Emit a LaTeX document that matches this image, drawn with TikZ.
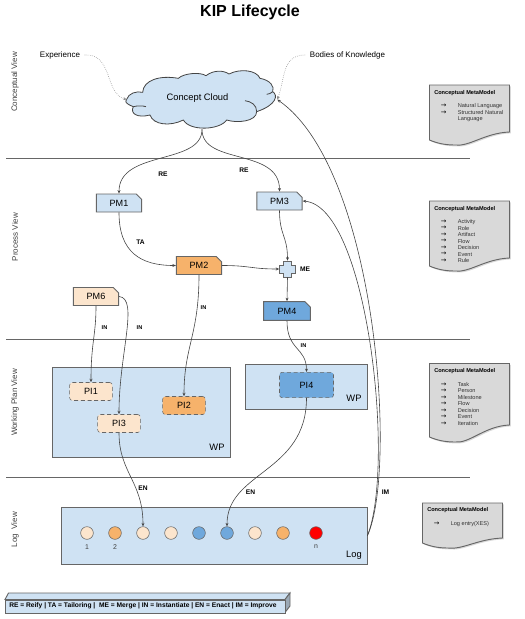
\documentclass[tikz,border=0pt]{standalone}
\usepackage{fontspec}
\setmainfont{Liberation Sans}
\newfontfamily\tipfont{DejaVu Sans}
\usetikzlibrary{arrows.meta, positioning, shapes.misc, shadows}
\definecolor{paleblue}{HTML}{CFE2F3}
\definecolor{midblue}{HTML}{6FA8DC}
\definecolor{peach}{HTML}{FCE5CD}
\definecolor{amber}{HTML}{F6B26B}
\definecolor{pagegray}{HTML}{D9D9D9}
\definecolor{edge}{HTML}{666666}
\definecolor{wire}{HTML}{444444}
\tikzset{
  pmbox/.style={shape=chamfered rectangle, chamfered rectangle corners=north east,
    chamfered rectangle sep=2pt, draw=edge, line width=0.7pt, inner sep=0pt,
    minimum width=34pt, minimum height=13.5pt, font=\fontsize{6.8}{8}\selectfont},
  pibox/.style={draw=edge, densely dashed, rounded corners=2pt, inner sep=0pt,
    minimum width=32pt, minimum height=13.5pt, font=\fontsize{6.8}{8}\selectfont},
  area/.style={draw=edge, line width=0.7pt, fill=paleblue, inner sep=0pt},
  evt/.style={circle, draw=edge, inner sep=0pt, minimum size=9.5pt},
  evtnum/.style={below=3.5pt, inner sep=0pt, text=black!75, font=\fontsize{5.2}{6}\selectfont},
  viewlabel/.style={rotate=90, text=black!75, font=\fontsize{6}{7}\selectfont},
  flowlabel/.style={font=\fontsize{5}{6}\selectfont\bfseries},
  inlabel/.style={font=\fontsize{4.2}{5}\selectfont\bfseries},
  plainlabel/.style={font=\fontsize{6}{7}\selectfont},
  wirearrow/.style={->, wire, line width=0.45pt},
  hintarrow/.style={->, black!45, densely dotted, line width=0.45pt},
  rowline/.style={edge, line width=0.6pt},
  pagetext/.style={anchor=west, inner sep=0pt, text=black!80, font=\fontsize{4.2}{5}\selectfont},
  pagetip/.style={anchor=west, inner sep=0pt, font=\fontsize{5}{5}\selectfont\tipfont},
  pagetitle/.style={anchor=west, inner sep=0pt, font=\fontsize{4.2}{5}\selectfont\bfseries},
}
\begin{document}
\begin{tikzpicture}[x=0.75pt, y=-0.75pt,
    >={Stealth[length=2.6pt, width=2.2pt]}]
  \useasboundingbox (0,0) rectangle (525,619);
  \node[font=\fontsize{12}{14}\selectfont\bfseries] (title) at (250,12) {KIP Lifecycle};

  % rows
  \foreach \y in {158.5, 339.5, 477.5} {
    \draw[rowline] (6,\y) -- (470,\y);
  }
  \node[viewlabel] (vconcept) at (15,82) {Conceptual View};
  \node[viewlabel] (vprocess) at (15,237) {Process View};
  \node[viewlabel] (vplan) at (15,402.5) {Working Plan View};
  \node[viewlabel] (vlog) at (15,529.5) {Log\ \ View};

  % conceptual row
  \node[plainlabel] (exper) at (60,55) {Experience};
  \node[plainlabel] (bodies) at (347.5,55) {Bodies of Knowledge};
  \begin{scope}[shift={(120,60)}, x=0.25pt, y=-0.25pt]
    \draw[draw=wire, line width=0.6pt, fill=paleblue]
      (20,118) .. controls (25,100) and (50,92) .. (68,97)
      .. controls (70,60) and (120,45) .. (175,55)
      .. controls (190,40) and (240,35) .. (258,47)
      .. controls (280,30) and (310,30) .. (327,42)
      .. controls (360,25) and (410,30) .. (420,55)
      .. controls (450,60) and (465,80) .. (458,95)
      .. controls (475,105) and (470,135) .. (410,155)
      .. controls (410,185) and (350,190) .. (320,180)
      .. controls (300,210) and (210,215) .. (190,180)
      .. controls (150,200) and (100,195) .. (90,165)
      .. controls (50,175) and (30,160) .. (40,140)
      .. controls (15,130) and (15,125) .. (20,118) -- cycle;
    \draw[draw=wire, line width=0.6pt] (40,140) .. controls (50,137) and (70,137) .. (78,140);
    \draw[draw=wire, line width=0.6pt] (410,155) .. controls (410,135) and (395,125) .. (375,122);
    \draw[draw=wire, line width=0.6pt] (458,95) .. controls (455,100) and (445,102) .. (440,103);
  \end{scope}
  \node[minimum width=112.5pt, minimum height=44.5pt, inner sep=0pt] (cloud) at (202,99.5) {};
  \node[font=\fontsize{7}{8}\selectfont] (cloudtext) at (197.5,98.5) {Concept Cloud};

  % process models
  \node[pmbox, fill=paleblue] (PM1) at (119,203) {PM1};
  \node[pmbox, fill=paleblue] (PM3) at (279.5,201) {PM3};
  \node[pmbox, fill=amber] (PM2) at (199,265.5) {PM2};
  \node[pmbox, fill=peach] (PM6) at (96,296.5) {PM6};
  \node[pmbox, fill=midblue, minimum width=35pt, minimum height=14pt] (PM4) at (287,311) {PM4};
  \node[minimum size=12pt, inner sep=0pt] (merge) at (287.5,269) {};
  \draw[draw=edge, line width=0.7pt, fill=paleblue]
    (279.5,265) -- (283.5,265) -- (283.5,261) -- (291.5,261) -- (291.5,265) -- (295.5,265)
    -- (295.5,273) -- (291.5,273) -- (291.5,277) -- (283.5,277) -- (283.5,273)
    -- (279.5,273) -- cycle;

  % work plans
  \node[area, anchor=north west, minimum width=133.5pt, minimum height=67.5pt] (WP1) at (51.5,366.5) {};
  \node[area, anchor=north west, minimum width=91.5pt, minimum height=33.75pt] (WP2) at (244.5,363.5) {};
  \node[font=\fontsize{7}{8}\selectfont] (wpa) at (217,447) {WP};
  \node[font=\fontsize{7}{8}\selectfont] (wpb) at (354,398.5) {WP};
  \node[pibox, fill=peach] (PI1) at (91,391.5) {PI1};
  \node[pibox, fill=peach] (PI3) at (119,423.5) {PI3};
  \node[pibox, fill=amber] (PI2) at (184,405.5) {PI2};
  \node[pibox, fill=midblue, minimum width=40.5pt, minimum height=19pt] (PI4) at (306.5,385) {PI4};

  % log
  \node[area, anchor=north west, minimum width=229.5pt, minimum height=43pt] (log) at (60.5,506.5) {};
  \node[font=\fontsize{7}{8}\selectfont] (logname) at (354,555.5) {Log};
  \foreach \n/\x/\c in {1/87/peach, 2/115/amber, 3/143/peach, 4/171/peach, 5/199/midblue,
                        6/227/midblue, 7/255/peach, 8/283/amber, 9/316/red} {
    \node[evt, fill=\c] (E\n) at (\x,533) {};
  }
  \node[evtnum] (n1) at (E1.south) {1};
  \node[evtnum] (n2) at (E2.south) {2};
  \node[evtnum] (n9) at (E9.south) {n};

  % connectors
  \draw[hintarrow] (exper.east) .. controls +(28,-2) and +(-22,-6) .. (cloud.west);
  \draw[hintarrow] (bodies.west) .. controls +(-24,0) and +(8,-20) .. (cloud.east);
  \draw[wirearrow] (cloud.south) .. controls +(0,36) and +(0,-44) .. (PM1.north);
  \draw[wirearrow] (cloud.south) .. controls +(0,36) and +(0,-44) .. (PM3.north);
  \draw[wirearrow] (PM1.south) .. controls +(0,40) and +(-35,0) .. (PM2.west);
  \draw[wirearrow] (PM2.east) .. controls +(28,0) and +(-28,0) .. (merge.west);
  \draw[wirearrow] (PM3.south) .. controls +(0,25) and +(0,-25) .. (merge.north);
  \draw[wirearrow] (merge.south) -- (PM4.north);
  \draw[wirearrow] (PM6.south) .. controls +(0,30) and +(0,-40) .. (PI1.north);
  \draw[wirearrow] (PM6.east) .. controls +(20,2) and +(0,-60) .. (PI3.north);
  \draw[wirearrow] (PM2.south) .. controls +(0,60) and +(0,-50) .. (PI2.north);
  \draw[wirearrow] (PM4.south) .. controls +(0,30) and +(0,-25) .. (PI4.north);
  \draw[wirearrow] (PI3.south) .. controls +(0,40) and +(0,-45) .. (E3.north);
  \draw[wirearrow] (PI4.south) .. controls +(0,75) and +(0,-55) .. (E6.north);
  \draw[wirearrow] (log.east) .. controls +(30,-65) and +(100,70) .. (cloud.east);
  \draw[wirearrow] (log.east) .. controls +(28,-70) and +(65,5) .. (PM3.east);

  % connector labels
  \foreach \n/\x/\y/\t in {a/163/174.5/RE, b/244/170/RE, c/140.5/242.5/TA, d/305/269.5/ME,
                           i/143/488.5/EN, j/250.5/492.5/EN, k/385.5/492.5/IM} {
    \node[flowlabel] (lab\n) at (\x,\y) {\t};
  }
  \foreach \n/\x/\y in {e/104.5/328, f/139.5/328, g/203.5/308, h/303.5/346} {
    \node[inlabel] (lab\n) at (\x,\y) {IN};
  }

  % metamodel pages
  \foreach \x/\top/\bl/\dip/\br in {429.5/85/140/145/132, 429.5/201/266/271/258,
                                    429.5/363.5/437/442/425, 422.5/503/543/548/538} {
    \draw[draw=edge, line width=0.7pt, fill=pagegray,
          drop shadow={opacity=0.3, shadow xshift=1pt, shadow yshift=-1pt}]
      (\x,\top) -- (\x+80,\top) -- (\x+80,\br)
      .. controls (\x+55,\br+1) and (\x+40,\dip+2) .. (\x+25,\dip)
      .. controls (\x+15,\dip) and (\x+7,\dip-2) .. (\x,\bl) -- cycle;
  }
  \node[pagetitle] (docA) at (434,92.7) {Conceptual MetaModel};
  \node[pagetitle] (docB) at (434,208.7) {Conceptual MetaModel};
  \node[pagetitle] (docC) at (434,371) {Conceptual MetaModel};
  \node[pagetitle] (docD) at (427,510) {Conceptual MetaModel};
  \foreach \y/\t in {106/Natural Language, 112.5/Structured Natural} {
    \node[pagetip] at (440.5,\y) {→};
    \node[pagetext] at (457.5,\y) {\t};
  }
  \node[pagetext] at (457.5,119) {Language};
  \foreach \y/\t in {221.7/Activity, 228.2/Role, 234.7/Artifact, 241.2/Flow,
                     247.7/Decision, 254.2/Event, 260.7/Rule} {
    \node[pagetip] at (440.5,\y) {→};
    \node[pagetext] at (457.5,\y) {\t};
  }
  \foreach \y/\t in {384.3/Task, 390.8/Person, 397.3/Milestone, 403.8/Flow,
                     410.3/Decision, 416.8/Event, 423.3/Iteration} {
    \node[pagetip] at (440.5,\y) {→};
    \node[pagetext] at (457.5,\y) {\t};
  }
  \node[pagetip] at (433.5,524) {→};
  \node[pagetext] at (450.5,524) {Log entry(XES)};

  % legend
  \draw[draw=edge, line width=0.7pt, fill=paleblue] (5,599.5) -- (8.5,593) -- (290,593) -- (285,599.5) -- cycle;
  \draw[draw=edge, line width=0.7pt, fill=paleblue!75!black] (285,599.5) -- (290,593) -- (290,606) -- (285,612.5) -- cycle;
  \node[area, anchor=north west, minimum width=210pt, minimum height=9.75pt] (legend) at (5,599.5) {};
  \node[anchor=west, inner sep=0pt, font=\fontsize{5}{6}\selectfont\bfseries] (legendtext) at (9,606)
    {RE = Reify | TA = Tailoring |\ \ ME = Merge | IN = Instantiate | EN = Enact | IM = Improve};
\end{tikzpicture}
\end{document}
